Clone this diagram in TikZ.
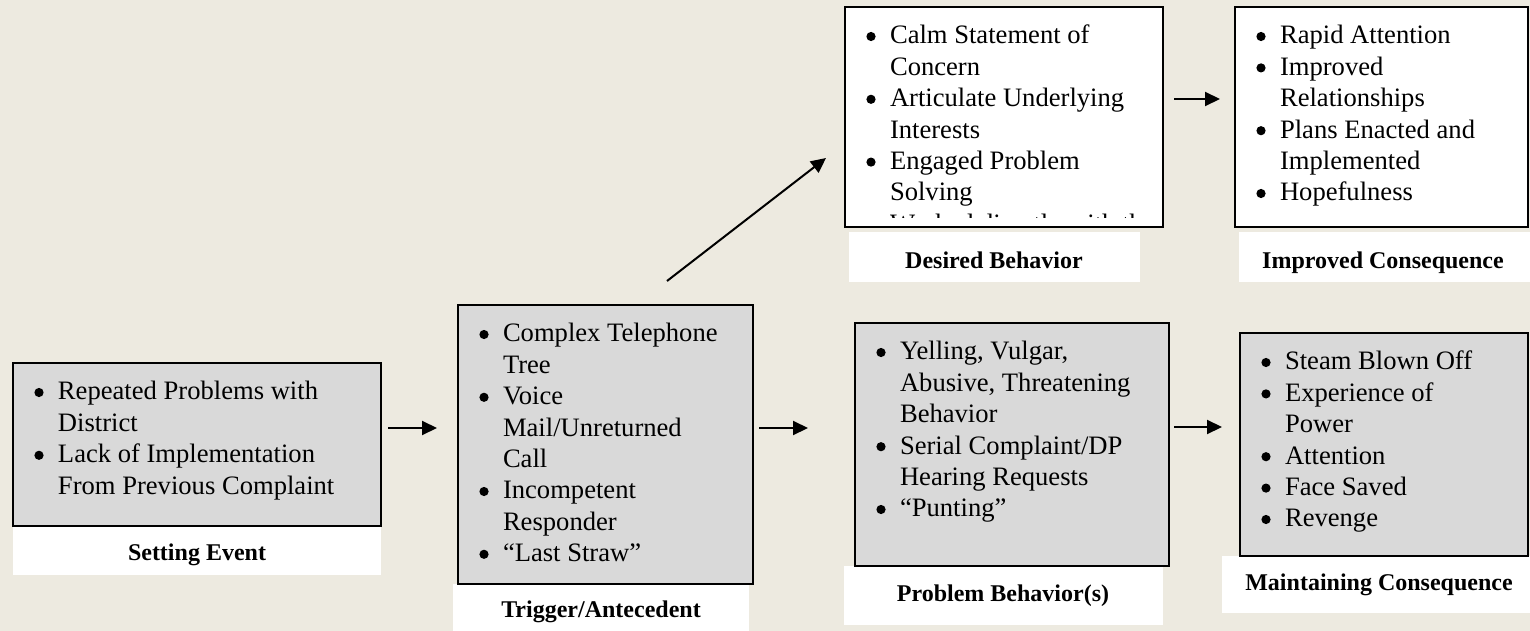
\documentclass[tikz,border=0pt]{standalone}
\usepackage{fontspec}
\setmainfont{Liberation Serif}
\usetikzlibrary{arrows.meta}
\definecolor{bgc}{RGB}{237,234,224}
\definecolor{boxgray}{RGB}{217,217,217}
\newcommand{\bsp}{\hspace*{13pt}}
\begin{document}
\begin{tikzpicture}[x=0.5pt,y=-0.5pt,
  box/.style={draw=black, line width=0.85pt, anchor=north west, inner sep=0pt, outer sep=0pt},
  graybox/.style={box, fill=boxgray},
  whitebox/.style={box, fill=white},
  lab/.style={fill=white, anchor=north west, inner sep=0pt, outer sep=0pt},
  labtext/.style={anchor=center, inner sep=0pt, outer sep=0pt, text height=8.1pt, text depth=0pt, font=\fontsize{12pt}{14pt}\selectfont\bfseries},
  body/.style={anchor=north west, inner sep=0pt, outer sep=0pt, align=left, font=\fontsize{13.3pt}{15.7pt}\selectfont},
  dot/.style={fill=black},
  arr/.style={line width=1pt, -{Triangle[length=7.5pt,width=7pt]}}
]
\fill[bgc] (0,0) rectangle (1530,631);
\useasboundingbox (0,0) rectangle (1530,631);

% label panels
\node[lab, minimum width=184pt, minimum height=24.5pt] (setL) at (13,526) {};
\node[lab, minimum width=148pt, minimum height=23.5pt] (trigL) at (453,584) {};
\node[lab, minimum width=159.5pt, minimum height=29.5pt] (probL) at (844,566) {};
\node[lab, minimum width=154pt, minimum height=28.5pt] (maintL) at (1222,556) {};
\node[lab, minimum width=145.5pt, minimum height=25pt] (desL) at (849,232) {};
\node[lab, minimum width=145.5pt, minimum height=25pt] (impL) at (1239,232) {};

% label texts
\node[labtext] (setX) at (197,552) {Setting Event};
\node[labtext] (trigX) at (601,609) {Trigger/Antecedent};
\node[labtext] (probX) at (1003,593) {Problem Behavior(s)};
\node[labtext] (maintX) at (1379,582) {Maintaining Consequence};
\node[labtext] (desX) at (994,260) {Desired Behavior};
\node[labtext] (impX) at (1383,260) {Improved Consequence};

% boxes
\node[graybox, minimum width=184pt, minimum height=81.5pt] (set) at (13,363) {};
\node[graybox, minimum width=147.5pt, minimum height=139.5pt] (trig) at (458,305) {};
\node[graybox, minimum width=157pt, minimum height=121.5pt] (prob) at (855,323) {};
\node[graybox, minimum width=144pt, minimum height=111.5pt] (maint) at (1240,333) {};
\node[whitebox, minimum width=159pt, minimum height=110pt] (des) at (845,7) {};
\node[whitebox, minimum width=146.5pt, minimum height=110pt] (imp) at (1235,7) {};

% texts
\node[body] (setT) at (32,378) {\strut\bsp Repeated Problems with\\\bsp District\\\bsp Lack of Implementation\\\bsp From Previous Complaint};
\node[body] (trigT) at (477,320) {\strut\bsp Complex Telephone\\\bsp Tree\\\bsp Voice\\\bsp Mail/Unreturned\\\bsp Call\\\bsp Incompetent\\\bsp Responder\\\bsp “Last Straw”};
\node[body] (probT) at (874,338) {\strut\bsp Yelling, Vulgar,\\\bsp Abusive, Threatening\\\bsp Behavior\\\bsp Serial Complaint/DP\\\bsp Hearing Requests\\\bsp “Punting”};
\node[body] (maintT) at (1259,348) {\strut\bsp Steam Blown Off\\\bsp Experience of\\\bsp Power\\\bsp Attention\\\bsp Face Saved\\\bsp Revenge};
\begin{scope}
\clip (845,7) rectangle (1163,217.5);
\node[body] (desT) at (864,22) {\strut\bsp Calm Statement of\\\bsp Concern\\\bsp Articulate Underlying\\\bsp Interests\\\bsp Engaged Problem\\\bsp Solving\\\bsp Worked directly with the};
\end{scope}
\node[body] (impT) at (1254,22) {\strut\bsp Rapid Attention\\\bsp Improved\\\bsp Relationships\\\bsp Plans Enacted and\\\bsp Implemented\\\bsp Hopefulness};

% bullets
\foreach \y in {392.5,455.3} \fill[dot] (39,\y) circle (2.3pt);
\foreach \y in {334.5,397.3,491.5,554.3} \fill[dot] (484,\y) circle (2.3pt);
\foreach \y in {352.5,446.7,509.5} \fill[dot] (881,\y) circle (2.3pt);
\foreach \y in {362.5,393.9,456.7,488.1,519.5} \fill[dot] (1266,\y) circle (2.3pt);
\foreach \y in {36.5,99.3,162.1} \fill[dot] (871,\y) circle (2.3pt);
\foreach \y in {36.5,67.9,130.7,193.5} \fill[dot] (1261,\y) circle (2.3pt);

% connectors
\draw[arr, shorten <=3.5pt, shorten >=10.5pt] ([yshift=8.25pt]set.east) -- ([yshift=8.25pt]trig.west);
\draw[arr, shorten <=3pt, shorten >=23.5pt] ([yshift=8.25pt]trig.east) -- ([yshift=8.25pt]prob.west);
\draw[arr, shorten <=2.5pt, shorten >=9pt] ([yshift=8.75pt]prob.east) -- ([yshift=8.75pt]maint.west);
\draw[arr, shorten <=5.5pt, shorten >=7.5pt] ([yshift=9pt]des.east) -- ([yshift=9pt]imp.west);
\draw[arr] ([xshift=30.75pt,yshift=12pt]trig.north) -- ([xshift=-9.5pt,yshift=-20.5pt]des.west);
\end{tikzpicture}
\end{document}
